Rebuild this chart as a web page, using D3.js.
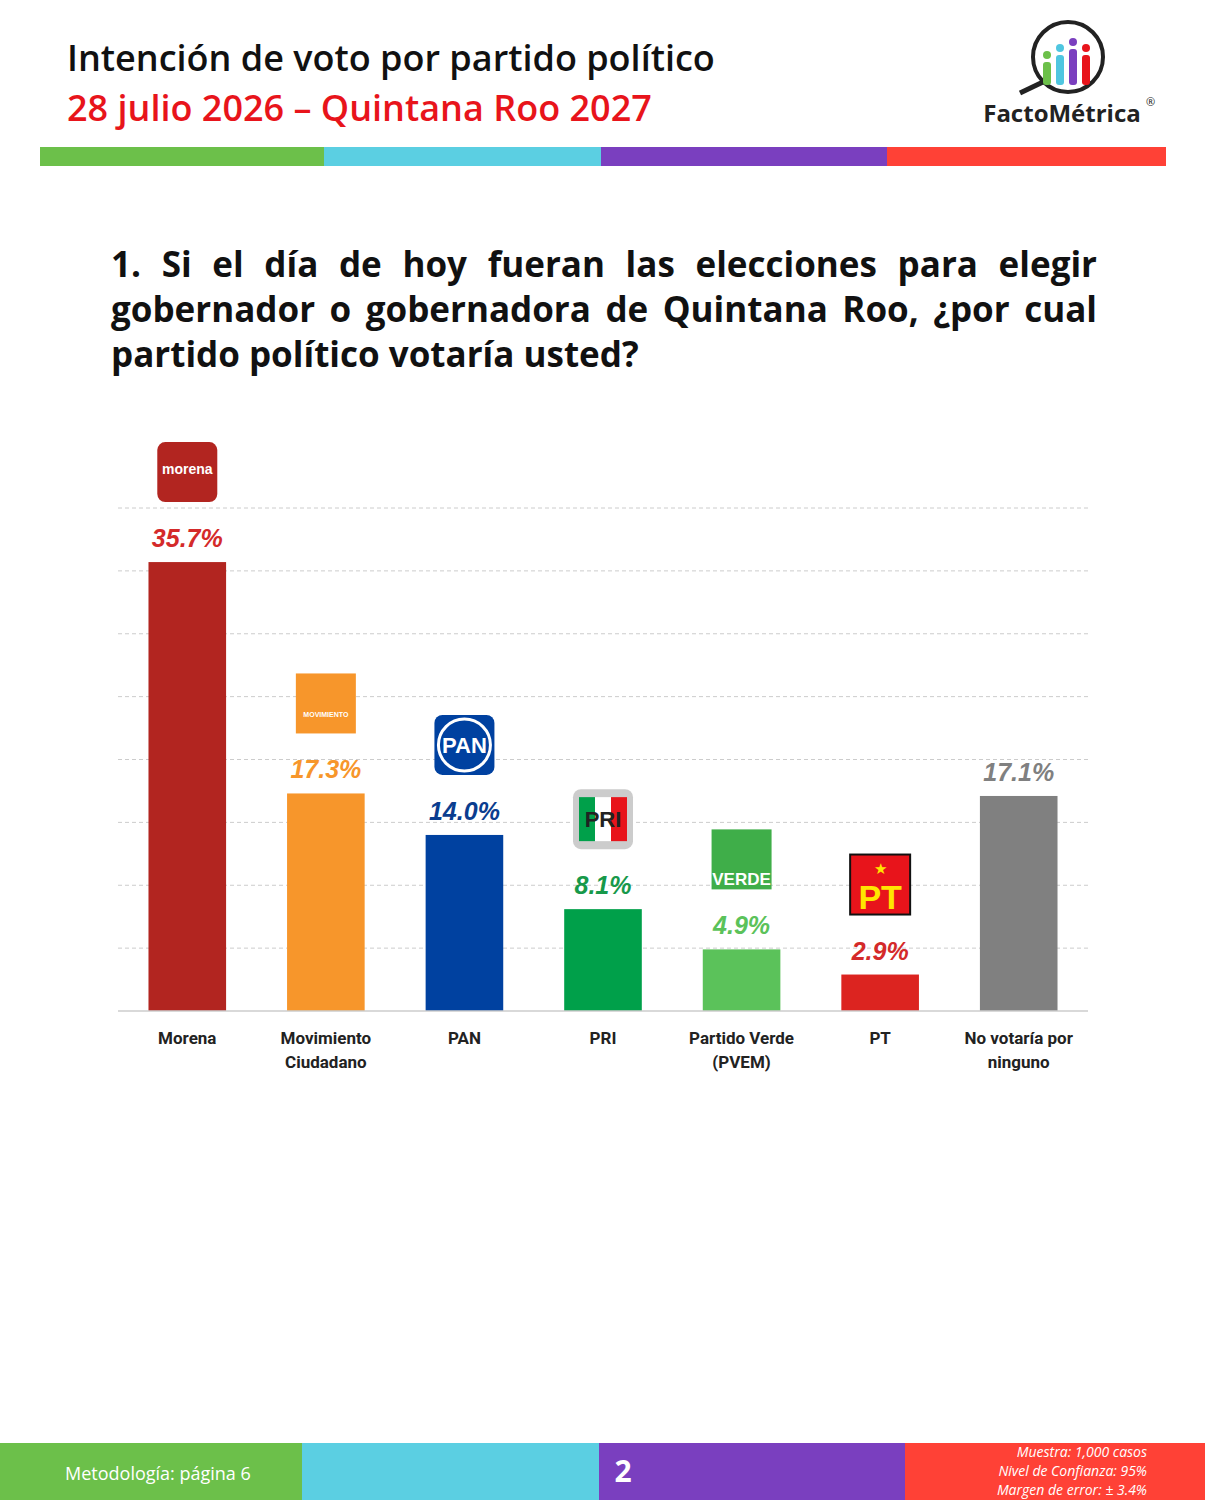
<!DOCTYPE html>
<html><head><meta charset="utf-8">
<script src="https://cdn.jsdelivr.net/npm/d3@7"></script>
<style>body{margin:0;background:#fff;font-family:"Open Sans",sans-serif}</style>
</head><body><svg id="c" width="1205" height="1500"></svg>
<script>
var parties = ["Morena","Movimiento\nCiudadano","PAN","PRI","Partido Verde\n(PVEM)","PT","No votaría por\nninguno"];
var values = [35.7,17.3,14.0,8.1,4.9,2.9,17.1];
var barColors = ["#b22520","#f7962b","#0041a0","#00a04a","#5bc25a","#dc2420","#808080"];
var labelColors = ["#d42a2a","#f7962b","#0a3d8f","#17994a","#5bc25a","#d42a2a","#808080"];
var gridTicks = [0,5,10,15,20,25,30,35,40];

var svg = d3.select("#c");
var font = "'Open Sans', sans-serif";

// header
svg.append("text").attr("x",67).attr("y",71).attr("font-size",36).attr("font-weight",600)
  .attr("font-family",font).attr("fill","#111").text("Intención de voto por partido político");
svg.append("text").attr("x",67).attr("y",121).attr("font-size",36).attr("font-weight",600)
  .attr("font-family",font).attr("fill","#e8141b").text("28 julio 2026 – Quintana Roo 2027");
// logo
var lg = svg.append("g");
lg.append("circle").attr("cx",1068).attr("cy",57).attr("r",35).attr("fill","none").attr("stroke","#222").attr("stroke-width",4);
lg.append("line").attr("x1",1043).attr("y1",82).attr("x2",1020).attr("y2",93).attr("stroke","#222").attr("stroke-width",5);
[["#6cc04a",1047,62],["#4fc6e0",1060,55],["#7a3fbf",1073,49],["#e8141b",1086,55]].forEach(function(d){
  lg.append("rect").attr("x",d[1]-4).attr("y",d[2]).attr("width",8).attr("height",85-d[2]).attr("rx",3).attr("fill",d[0]);
  lg.append("circle").attr("cx",d[1]).attr("cy",d[2]-7).attr("r",4).attr("fill",d[0]);
});
lg.append("text").attr("x",1062).attr("y",122).attr("text-anchor","middle").attr("font-size",24).attr("font-weight",700)
  .attr("font-family",font).attr("fill","#222").text("FactoMétrica");
lg.append("text").attr("x",1146).attr("y",106).attr("font-size",11).attr("fill","#222").text("®");

var stripe = [["#6cc04a",40,324],["#5bcfe2",324,601],["#7a3fbf",601,887],["#ff4136",887,1166]];
stripe.forEach(function(s){svg.append("rect").attr("x",s[1]).attr("y",147).attr("width",s[2]-s[1]).attr("height",19).attr("fill",s[0]);});

// question (justified lines)
var q = ["1. Si el día de hoy fueran las elecciones para elegir",
         "gobernador o gobernadora de Quintana Roo, ¿por cual",
         "partido político votaría usted?"];
q.forEach(function(s,i){
  var t = svg.append("text").attr("y",277+i*45).attr("font-size",35).attr("font-weight",700).attr("font-family",font).attr("fill","#111")
   .attr("x",111).text(s);
  if(i<2){
    var w = t.node().getComputedTextLength(), n = s.split(" ").length-1;
    t.attr("word-spacing",(986-w)/n);
  }
});

// chart
var x = d3.scaleBand().domain(parties).range([118,1088]).paddingInner(0.44).paddingOuter(0.22);
var y = d3.scaleLinear().domain([0,40]).range([1011,508]);

svg.append("g").selectAll("line").data(gridTicks.slice(1)).join("line")
  .attr("x1",118).attr("x2",1088).attr("y1",function(d){return y(d);}).attr("y2",function(d){return y(d);})
  .attr("stroke","#ccc").attr("stroke-dasharray","4,3");

svg.selectAll("rect.bar").data(values).join("rect").attr("class","bar")
  .attr("x",function(d,i){return x(parties[i]);}).attr("width",x.bandwidth())
  .attr("y",function(d){return y(d);}).attr("height",function(d){return y(0)-y(d);})
  .attr("fill",function(d,i){return barColors[i];});

svg.append("line").attr("x1",118).attr("x2",1088).attr("y1",1011).attr("y2",1011).attr("stroke","#ccc").attr("stroke-width",1.5);

svg.selectAll("text.val").data(values).join("text").attr("class","val")
  .attr("x",function(d,i){return x(parties[i])+x.bandwidth()/2;}).attr("y",function(d){return y(d)-15;})
  .attr("text-anchor","middle").attr("font-size",25).attr("font-style","italic").attr("font-weight",700)
  .attr("font-family","'Liberation Sans', Arial, sans-serif")
  .attr("fill",function(d,i){return labelColors[i];}).text(function(d){return d.toFixed(1)+"%";});

parties.forEach(function(p,i){
  var t = svg.append("text").attr("x",x(p)+x.bandwidth()/2).attr("y",1044).attr("text-anchor","middle")
   .attr("font-size",17).attr("font-weight",700).attr("font-family","Roboto, sans-serif").attr("fill","#222");
  p.split("\n").forEach(function(l,j){t.append("tspan").attr("x",x(p)+x.bandwidth()/2).attr("dy",j?24:0).text(l);});
});

// party logos
var logos = [
  {bg:"#b22520",fg:"#fff",txt:"morena",fs:14,ty:32},
  {bg:"#f7962b",fg:"#fff",txt:"MOVIMIENTO",fs:7,ty:44},
  {bg:"#0041a0",fg:"#fff",txt:"PAN",fs:22,ty:38},
  {bg:"#ccc",fg:"#222",txt:"PRI",fs:22,ty:38},
  {bg:"#3fae49",fg:"#fff",txt:"VERDE",fs:17,ty:56},
  {bg:"#e8141b",fg:"#ffe600",txt:"PT",fs:34,ty:54}
];
logos.forEach(function(l,i){
  var cx = x(parties[i])+x.bandwidth()/2, top = y(values[i])-120;
  var g = svg.append("g");
  g.append("rect").attr("x",cx-30).attr("y",top).attr("width",60).attr("height",60).attr("rx",i===0||i===2||i===3?8:0)
    .attr("fill",l.bg).attr("stroke",i===5?"#111":"none").attr("stroke-width",2);
  if(i===2) g.append("circle").attr("cx",cx).attr("cy",top+30).attr("r",26).attr("fill","none").attr("stroke","#fff").attr("stroke-width",3);
  if(i===3){
    g.append("rect").attr("x",cx-24).attr("y",top+8).attr("width",16).attr("height",44).attr("fill","#00a04a");
    g.append("rect").attr("x",cx+8).attr("y",top+8).attr("width",16).attr("height",44).attr("fill","#e8141b");
    g.append("rect").attr("x",cx-8).attr("y",top+8).attr("width",16).attr("height",44).attr("fill","#fff");
  }
  g.append("text").attr("x",cx).attr("y",top+l.ty).attr("text-anchor","middle")
    .attr("font-size",l.fs).attr("font-weight",700).attr("font-family","'Liberation Sans', Arial, sans-serif")
    .attr("fill",l.fg).text(l.txt);
  if(i===5) g.append("text").attr("x",cx).attr("y",top+19).attr("text-anchor","middle").attr("font-size",15).attr("fill","#ffe600").text("★");
});

// footer
var foot = [["#6cc04a",0,302],["#5bcfe2",302,599],["#7a3fbf",599,905],["#ff4136",905,1205]];
foot.forEach(function(s){svg.append("rect").attr("x",s[1]).attr("y",1443).attr("width",s[2]-s[1]).attr("height",57).attr("fill",s[0]);});
svg.append("text").attr("x",65).attr("y",1480).attr("font-size",18).attr("font-family",font).attr("fill","#fff").text("Metodología: página 6");
svg.append("text").attr("x",623).attr("y",1482).attr("text-anchor","middle").attr("font-size",30).attr("font-weight",700).attr("font-family",font).attr("fill","#fff").text("2");
["Muestra:  1,000 casos","Nivel de Confianza: 95%","Margen de error: ± 3.4%"].forEach(function(s,i){
  svg.append("text").attr("x",1147).attr("y",1457+i*19).attr("text-anchor","end").attr("font-size",14).attr("font-style","italic")
   .attr("font-family",font).attr("fill","#fff").text(s);
});
</script></body></html>
